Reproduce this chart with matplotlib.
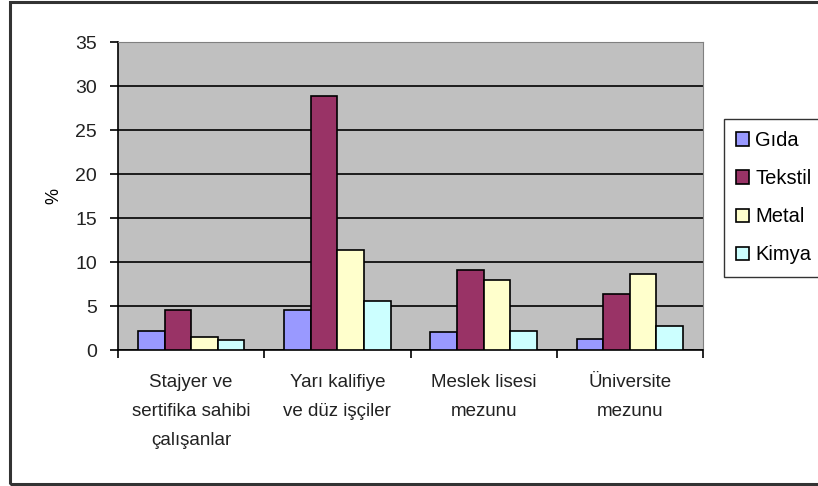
import numpy as np
import matplotlib.pyplot as plt
from matplotlib.patches import Rectangle

plt.rcParams['font.family'] = ['Liberation Sans', 'DejaVu Sans']

# Veriler
kategoriler = ["Stajyer ve\nsertifika sahibi\nçalışanlar",
               "Yarı kalifiye\nve düz işçiler",
               "Meslek lisesi\nmezunu",
               "Üniversite\nmezunu"]
seriler = ["Gıda", "Tekstil", "Metal", "Kimya"]
gida = [2.2, 4.5, 2.0, 1.3]
tekstil = [4.5, 28.9, 9.1, 6.4]
metal = [1.5, 11.4, 8.0, 8.6]
kimya = [1.1, 5.6, 2.2, 2.7]
renkler = ['#9999FF', '#993366', '#FFFFCC', '#CCFFFF']

fig = plt.figure(figsize=(8.18, 4.86), dpi=100)
ax = fig.add_axes([118/818, 1 - 350/486, (703 - 118)/818, (350 - 42)/486])

# Cerceve
fig.patches.append(Rectangle((10/818, 2/486), 1.0, 482/486, transform=fig.transFigure,
                             fill=False, edgecolor='#333333', linewidth=2.2))

x = np.arange(len(kategoriler))
w = 1 / 5.5
for i, (ad, degerler) in enumerate(zip(seriler, [gida, tekstil, metal, kimya])):
    ax.bar(x + (i - 1.5) * w, degerler, w, color=renkler[i], edgecolor='black',
           linewidth=1.2, label=ad, zorder=3)

ax.set_facecolor('#C0C0C0')
ax.set_xlim(-0.5, 3.5)
ax.set_ylim(0, 35)
ax.set_yticks(range(0, 36, 5))
ax.yaxis.grid(True, color='black', linewidth=1.2, zorder=1)
ax.set_axisbelow(True)

for s in ['top', 'right']:
    ax.spines[s].set_color('#808080')
for s in ['left', 'bottom']:
    ax.spines[s].set_color('black')
    ax.spines[s].set_linewidth(1.2)

ax.set_xticks(np.arange(-0.5, 3.6, 1))
ax.set_xticklabels([])
ax.set_xticks(x, minor=True)
ax.set_xticklabels(kategoriler, minor=True, fontsize=13.5, linespacing=1.95, color='#222222')
ax.tick_params(axis='x', which='major', length=6, width=1.2, direction='out')
ax.tick_params(axis='x', which='minor', length=0, pad=17)
ax.tick_params(axis='y', length=6, width=1.2, labelsize=14, pad=9, labelcolor='#222222')

ax.set_ylabel('%', fontsize=13, rotation=90)
ax.yaxis.set_label_coords(-0.095, 0.5)

leg = ax.legend(loc='upper left', bbox_to_anchor=(724/818, 1 - 119/486),
                bbox_transform=fig.transFigure, frameon=True, fancybox=False,
                fontsize=14.5, handlelength=0.65, handleheight=0.65, handletextpad=0.3,
                labelspacing=0.95, borderpad=0.6, borderaxespad=0)
leg.get_frame().set_edgecolor('black')
leg.get_frame().set_linewidth(1.0)

fig.savefig('out.png', dpi=100)
